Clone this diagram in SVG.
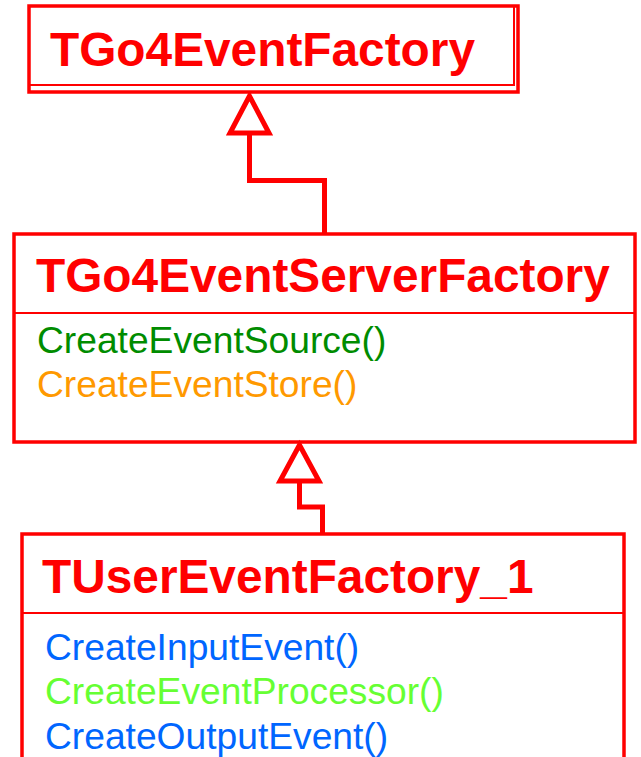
<svg xmlns="http://www.w3.org/2000/svg" width="641" height="757" viewBox="0 0 641 757">
  <style>
    .box { fill: #ffffff; stroke: #ff0000; stroke-width: 3.5; }
    .sep { fill: none; stroke: #ff0000; stroke-width: 2; }
    .title { font-family: "Liberation Sans", Arial, sans-serif; font-weight: bold; font-size: 47.8px; fill: #ff0000; }
    .op { font-family: "Liberation Sans", Arial, sans-serif; font-size: 37.2px; }
    .wire { fill: none; stroke: #ff0000; stroke-width: 5; }
    .head { fill: #ffffff; stroke: #ff0000; stroke-width: 5; stroke-linejoin: miter; }
  </style>
  <rect width="641" height="757" fill="#ffffff"/>

  <!-- base factory class -->
  <g id="TGo4EventFactory">
    <path class="box" d="M29,6 H518 V92 H29 Z"/>
    <path class="sep" d="M29,85 H514 V6"/>
    <text class="title" x="50" y="66">TGo4EventFactory</text>
  </g>

  <!-- server factory class -->
  <g id="TGo4EventServerFactory">
    <rect class="box" x="14" y="234" width="621" height="208"/>
    <line class="sep" x1="14" y1="313" x2="635" y2="313"/>
    <text class="title" x="36" y="292">TGo4EventServerFactory</text>
    <text class="op" x="37" y="353" fill="#008c00">CreateEventSource()</text>
    <text class="op" x="37" y="397" fill="#ff9900">CreateEventStore()</text>
  </g>

  <!-- user factory class -->
  <g id="TUserEventFactory_1">
    <path class="box" d="M22,770 V534 H624 V770"/>
    <line class="sep" x1="22" y1="613" x2="624" y2="613"/>
    <text class="title" x="42" y="593">TUserEventFactory_1</text>
    <text class="op" x="45" y="660" fill="#0066ff">CreateInputEvent()</text>
    <text class="op" x="45" y="704" fill="#66ff33">CreateEventProcessor()</text>
    <text class="op" x="45" y="749" fill="#0066ff">CreateOutputEvent()</text>
  </g>

  <!-- generalization connectors -->
  <g id="connectors">
    <path class="wire" d="M324.5,234 V180.5 H249.5 V134"/>
    <polygon class="head" points="249.5,96 230,133 269,133"/>
    <path class="wire" d="M322.5,534 V507 H299.5 V482"/>
    <polygon class="head" points="299.5,445 280,481 319,481"/>
  </g>
</svg>
